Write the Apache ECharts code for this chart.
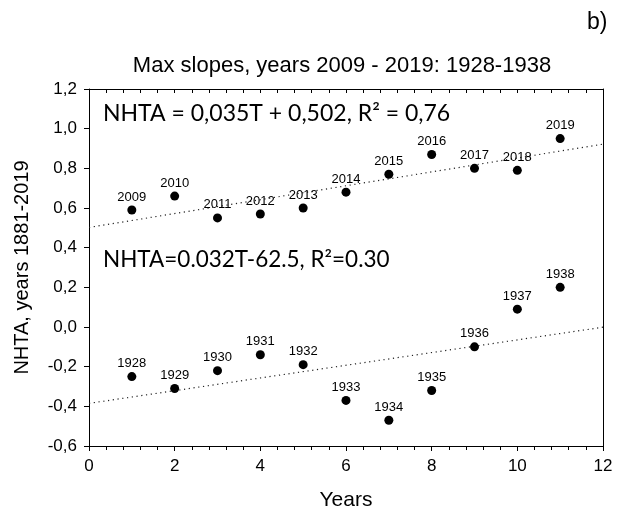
<!DOCTYPE html>
<html>
<head>
<meta charset="utf-8">
<script src="https://cdn.jsdelivr.net/npm/echarts@6/dist/echarts.min.js"></script>
<style>
  html, body { margin: 0; padding: 0; background: #fff; }
  #chart { width: 618px; height: 517px; }
</style>
</head>
<body>
<div id="chart"></div>
<script>
// Position of each year within its 11-year window
const yearIndex = [1, 2, 3, 4, 5, 6, 7, 8, 9, 10, 11];

// 2009-2019 window
const recentYears = ['2009', '2010', '2011', '2012', '2013', '2014', '2015', '2016', '2017', '2018', '2019'];
const recentValues = [0.59, 0.66, 0.55, 0.57, 0.60, 0.68, 0.77, 0.87, 0.80, 0.79, 0.95];

// 1928-1938 window
const earlyYears = ['1928', '1929', '1930', '1931', '1932', '1933', '1934', '1935', '1936', '1937', '1938'];
const earlyValues = [-0.25, -0.31, -0.22, -0.14, -0.19, -0.37, -0.47, -0.32, -0.10, 0.09, 0.20];

// Linear fits, evaluated at both ends of the x range
const trendX = [0, 12];
const recentTrend = [0.502, 0.922];
const earlyTrend = [-0.385, -0.001];

const recentEquation = 'NHTA = 0,035T + 0,502, R² = 0,76';
const earlyEquation = 'NHTA=0.032T-62.5, R²=0.30';

const chartTitle = 'Max slopes, years 2009 - 2019: 1928-1938';
const panelTag = 'b)';
const xName = 'Years';
const yName = 'NHTA, years 1881-2019';

const SANS = '"Liberation Sans", Arial, sans-serif';
const EQ_FONT = 'Lato, "Open Sans", sans-serif';

function points(xs, ys, names) {
  return xs.map((x, i) => ({ value: [x, ys[i]], name: names[i] }));
}
function line(xs, ys) {
  return xs.map((x, i) => [x, ys[i]]);
}

const chart = echarts.init(document.getElementById('chart'), null, { renderer: 'canvas' });

const dotSeries = (data) => ({
  type: 'scatter',
  xAxisIndex: 0,
  yAxisIndex: 0,
  data: data,
  symbol: 'circle',
  symbolSize: 9,
  itemStyle: { color: '#000', opacity: 1 },
  label: {
    show: true,
    position: 'top',
    distance: 2,
    formatter: '{b}',
    color: '#000',
    fontFamily: SANS,
    fontSize: 13
  },
  emphasis: { disabled: true },
  z: 3
});

const trendSeries = (data) => ({
  type: 'line',
  xAxisIndex: 0,
  yAxisIndex: 0,
  data: data,
  symbol: 'none',
  lineStyle: { color: '#222', width: 1.2, type: [1.2, 3.6] },
  emphasis: { disabled: true },
  silent: true,
  z: 2
});

chart.setOption({
  animation: false,
  backgroundColor: '#fff',
  grid: { left: 89, right: 15, top: 89, bottom: 71, containLabel: false },
  xAxis: [
    {
      type: 'value',
      position: 'bottom',
      min: 0, max: 12, interval: 2,
      name: xName,
      nameLocation: 'middle',
      nameGap: 44,
      nameTextStyle: { fontFamily: SANS, fontSize: 21, color: '#000' },
      axisLine: { show: true, onZero: false, lineStyle: { color: '#000', width: 1 } },
      axisTick: { show: true, inside: false, length: 5, lineStyle: { color: '#000' } },
      minorTick: { show: true, splitNumber: 5, length: 4, lineStyle: { color: '#000' } },
      axisLabel: { margin: 12, fontFamily: SANS, fontSize: 17, color: '#000' },
      splitLine: { show: false }
    },
    {
      type: 'value',
      position: 'top',
      min: 0, max: 12, interval: 2,
      axisLine: { show: true, onZero: false, lineStyle: { color: '#000', width: 1 } },
      axisTick: { show: true, inside: true, length: 4, lineStyle: { color: '#000' } },
      minorTick: { show: true, splitNumber: 5, length: 4, lineStyle: { color: '#000' } },
      axisLabel: { show: false },
      splitLine: { show: false }
    }
  ],
  yAxis: [
    {
      type: 'value',
      position: 'left',
      min: -0.6, max: 1.2, interval: 0.2,
      name: yName,
      nameLocation: 'middle',
      nameGap: 57,
      nameRotate: 90,
      nameTextStyle: { fontFamily: SANS, fontSize: 20, color: '#000' },
      axisLine: { show: true, onZero: false, lineStyle: { color: '#000', width: 1 } },
      axisTick: { show: true, inside: false, length: 5, lineStyle: { color: '#000' } },
      axisLabel: {
        margin: 12,
        fontFamily: SANS, fontSize: 17, color: '#000',
        formatter: (v) => v.toFixed(1).replace('.', ',').replace('-0,0', '0,0')
      },
      splitLine: { show: false }
    },
    {
      type: 'value',
      position: 'right',
      min: -0.6, max: 1.2, interval: 0.2,
      axisLine: { show: true, onZero: false, lineStyle: { color: '#000', width: 1 } },
      axisTick: { show: false },
      axisLabel: { show: false },
      splitLine: { show: false }
    }
  ],
  title: [
    {
      text: chartTitle,
      left: 337, top: 50, textAlign: 'center',
      textStyle: { fontFamily: SANS, fontSize: 22, fontWeight: 'normal', color: '#000' }
    },
    {
      text: panelTag,
      left: 582, top: 6,
      textStyle: { fontFamily: SANS, fontSize: 23, fontWeight: 'normal', color: '#000' }
    }
  ],
  graphic: [
    {
      type: 'text', left: 103, top: 102,
      style: { text: recentEquation, fontFamily: EQ_FONT, fontSize: 23, fill: '#000' }
    },
    {
      type: 'text', left: 103, top: 248,
      style: { text: earlyEquation, fontFamily: EQ_FONT, fontSize: 22.5, fill: '#000' }
    }
  ],
  series: [
    trendSeries(line(trendX, recentTrend)),
    trendSeries(line(trendX, earlyTrend)),
    dotSeries(points(yearIndex, recentValues, recentYears)),
    dotSeries(points(yearIndex, earlyValues, earlyYears))
  ]
});
</script>
</body>
</html>
